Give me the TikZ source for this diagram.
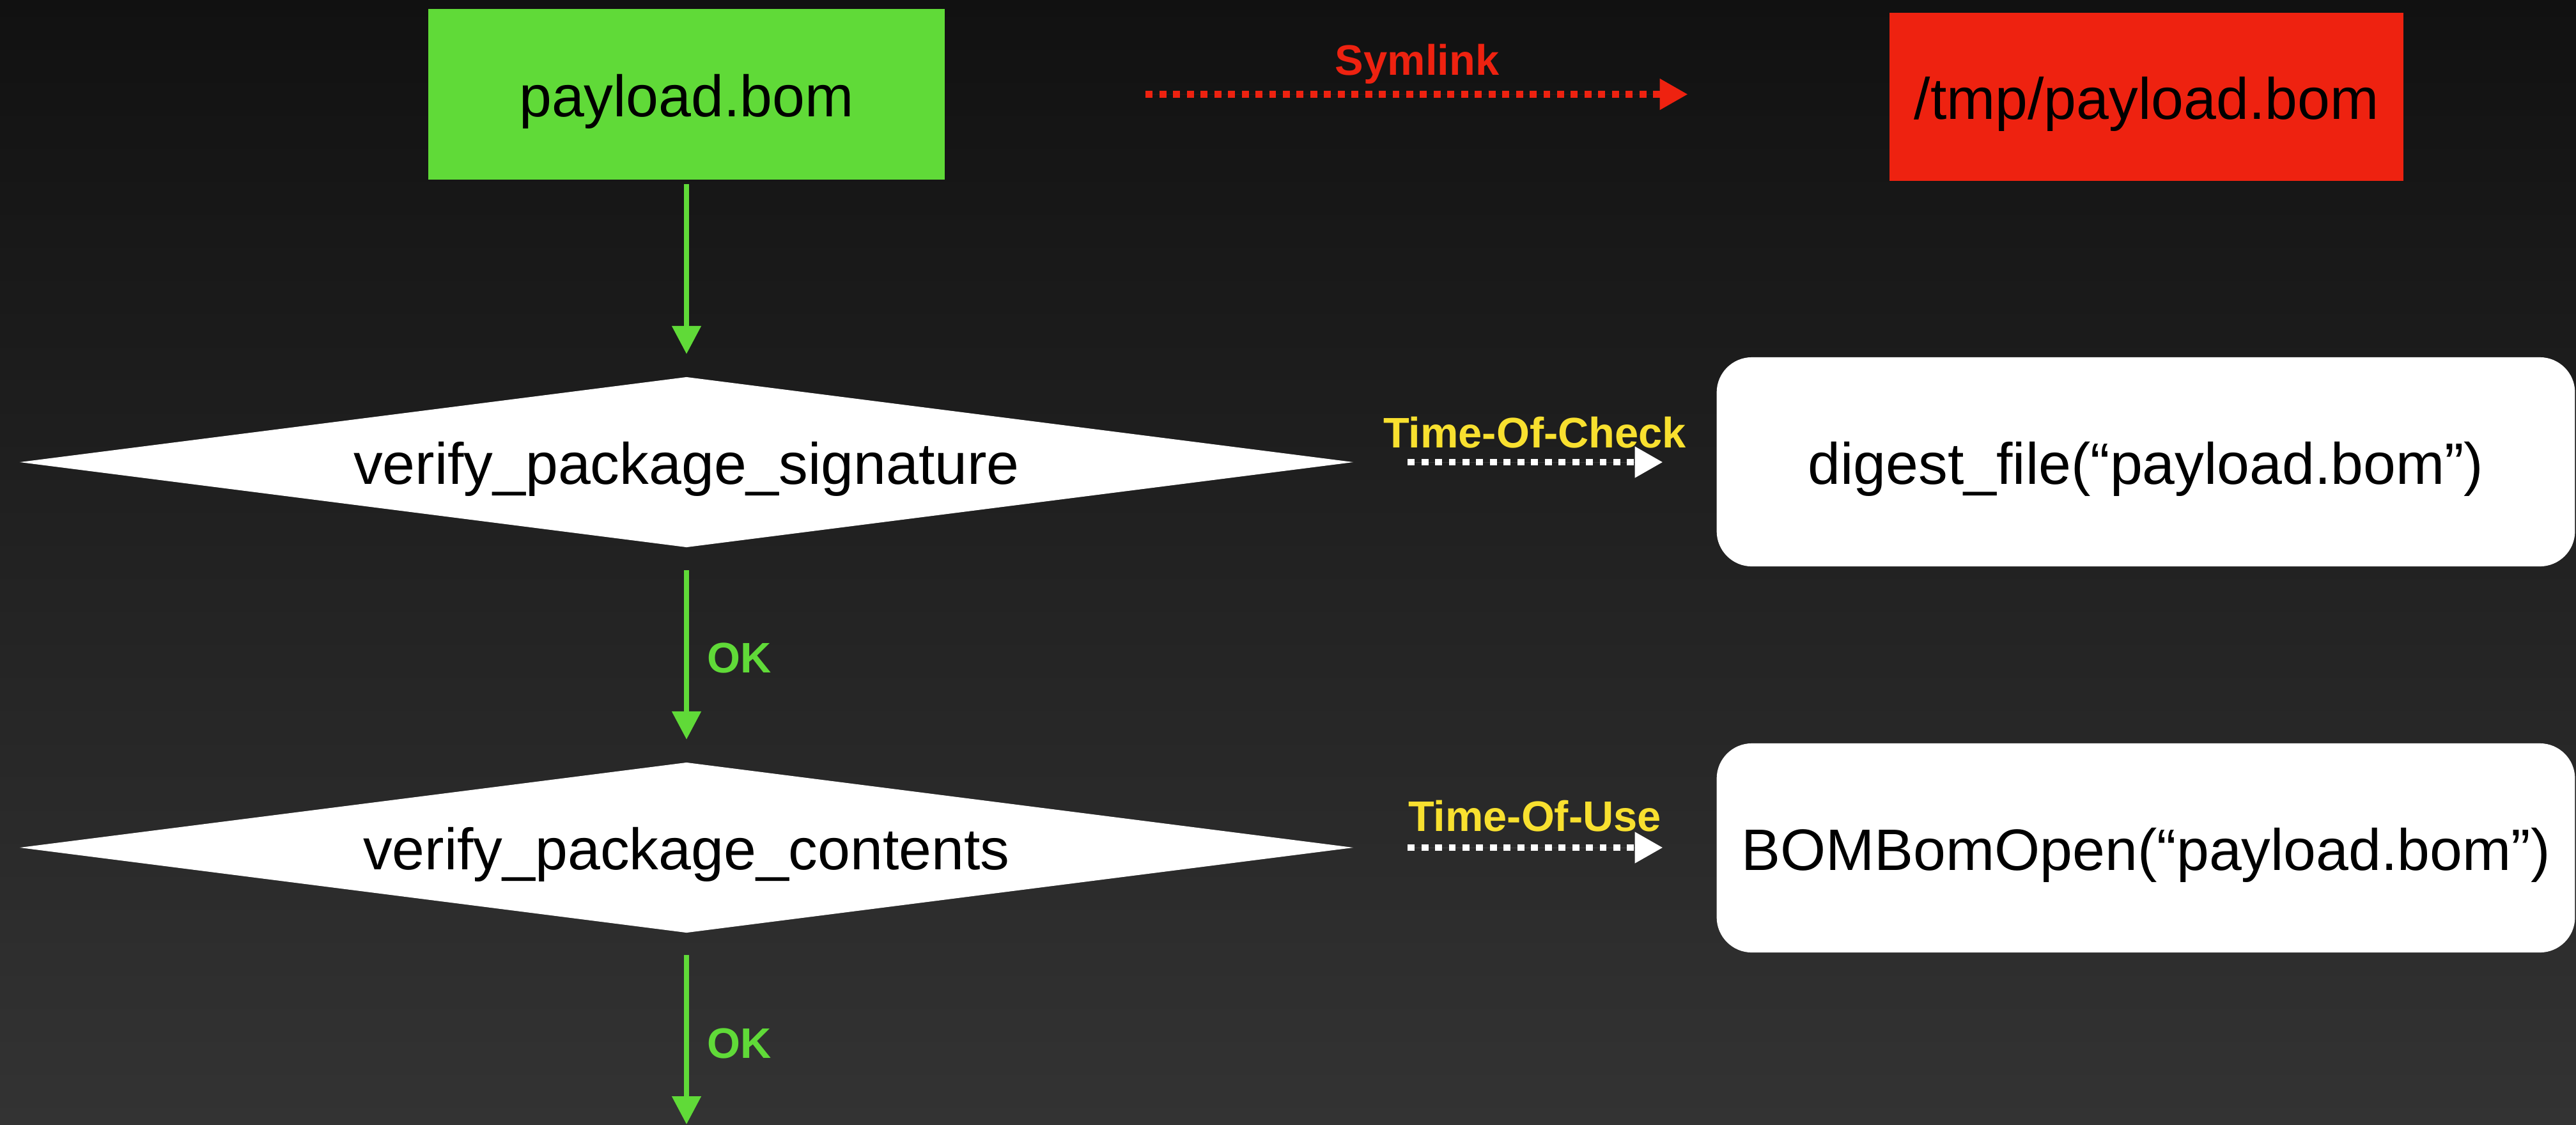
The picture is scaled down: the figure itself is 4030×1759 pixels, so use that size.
\documentclass[tikz,border=0pt]{standalone}
\usepackage{fontspec}
\setmainfont{Liberation Sans}
\usetikzlibrary{shapes.geometric,arrows.meta}
\definecolor{bgtop}{HTML}{111111}
\definecolor{bgbot}{HTML}{333333}
\definecolor{okgreen}{HTML}{60DA38}
\definecolor{linkred}{HTML}{EE2210}
\definecolor{tocyellow}{HTML}{F8E02F}
\begin{document}
\begin{tikzpicture}[x=0.01cm,y=-0.01cm,
  maintext/.style={font=\fontsize{26}{30}\selectfont, text=black, inner sep=0pt, outer sep=0pt, text height=19.8pt, text depth=0pt},
  filebox/.style={maintext, rectangle},
  decision/.style={maintext, diamond, fill=white, aspect=7.84, minimum width=20.85cm, minimum height=2.66cm},
  callbox/.style={maintext, rectangle, rounded corners=0.55cm, fill=white, minimum width=13.42cm, minimum height=3.27cm},
  flow/.style={draw=okgreen, fill=okgreen, line width=2.3pt, -{Triangle[length=0.44cm,width=0.44cm]}},
  dotflow/.style={line width=3.1pt, dash pattern=on 3.1pt off 3pt, -{Triangle[length=0.44cm,width=0.46cm]}},
  lbl/.style={font=\bfseries\fontsize{19}{22}\selectfont, inner sep=0pt},
]
\useasboundingbox (0,0) rectangle (4030,1759);
\shade[top color=bgtop, bottom color=bgbot] (0,0) rectangle (4030,1759);

% nodes
\node[filebox, fill=okgreen, minimum width=8.08cm, minimum height=2.67cm] (src) at (1074,147.5) {payload.bom};
\node[filebox, fill=linkred, minimum width=8.04cm, minimum height=2.63cm] (tmp) at (3358,151.5) {/tmp/payload.bom};
\node[decision] (d1) at (1074,723) {verify\_package\_signature};
\node[decision] (d2) at (1074,1326) {verify\_package\_contents};
\node[callbox] (chk) at (3357,722.5) {digest\_file(“payload.bom”)};
\node[callbox] (use) at (3357,1326.5) {BOMBomOpen(“payload.bom”)};
\coordinate (bottom) at (1074,1759);

% green flow
\draw[flow, shorten <=0.07cm, shorten >=0.36cm] (src.south) -- (d1.north);
\draw[flow, shorten <=0.36cm, shorten >=0.36cm] (d1.south) -- (d2.north);
\draw[flow, shorten <=0.35cm] (d2.south) -- (bottom);
\node[lbl, text=okgreen, anchor=west] (ok1) at (1106,1029) {OK};
\node[lbl, text=okgreen, anchor=west] (ok2) at (1106,1632) {OK};

% symlink
\draw[dotflow, draw=linkred, fill=linkred, shorten <=3.14cm, shorten >=3.15cm] (src.east) -- (src.east -| tmp.west);
\node[lbl, text=linkred, anchor=base] (symlbl) at (2217,117) {Symlink};

% time of check / use
\draw[dotflow, draw=white, fill=white, shorten <=0.85cm, shorten >=0.84cm] (d1.east) -- (d1.east -| chk.west);
\node[lbl, text=tocyellow, anchor=base] (toclbl) at (2401,700) {Time-Of-Check};
\draw[dotflow, draw=white, fill=white, shorten <=0.85cm, shorten >=0.84cm] (d2.east) -- (d2.east -| use.west);
\node[lbl, text=tocyellow, anchor=base] (toulbl) at (2401,1300) {Time-Of-Use};
\end{tikzpicture}
\end{document}
